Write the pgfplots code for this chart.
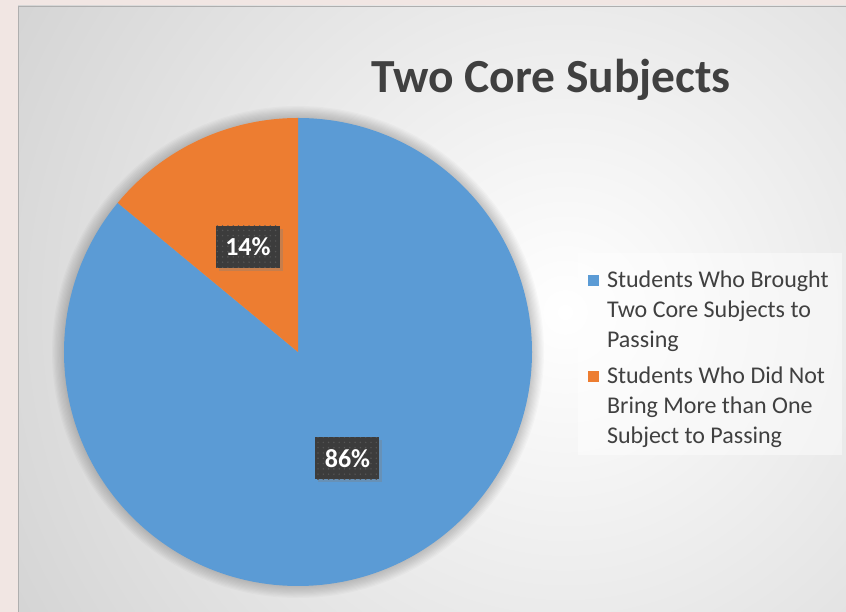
\documentclass[border=0pt]{standalone}
\usepackage{fontspec}
\setmainfont{Carlito}
\usepackage{pgfplots}
\pgfplotsset{compat=1.18}
\usepackage{pgfplotstable}
\usetikzlibrary{shadows,patterns.meta}

\definecolor{pieblue}{HTML}{5B9BD5}
\definecolor{pieorange}{HTML}{ED7D31}
\definecolor{txtgray}{HTML}{404040}
\definecolor{lblbox}{HTML}{3C3C3C}
\definecolor{lbldot}{HTML}{565656}
\definecolor{bggray}{HTML}{C2C2C2}
\definecolor{outerbg}{HTML}{F1E6E3}

% share of students, in percent
\pgfplotstableread{
group value
brought 86
notbrought 14
}\piedata
\pgfplotstablegetelem{0}{value}\of\piedata \let\valA\pgfplotsretval
\pgfplotstablegetelem{1}{value}\of\piedata \let\valB\pgfplotsretval
\pgfmathsetmacro\angA{3.6*\valA}
\pgfmathsetmacro\angB{3.6*\valB}

\tikzset{pctlabel/.style={fill=lblbox, text=white, inner sep=0pt,
    minimum width=64pt, minimum height=42pt,
    font=\fontsize{26}{30}\selectfont\bfseries,
    drop shadow={shadow xshift=3pt, shadow yshift=-3pt, opacity=0.35},
    postaction={pattern={Dots[radius=0.8pt, distance=5.3pt]}, pattern color=lbldot}}}

\begin{document}
\begin{tikzpicture}[x=1pt, y=1pt]
\useasboundingbox (0,0) rectangle (846,612);
\fill[outerbg] (0,0) rectangle (846,612);
\begin{scope}
  \clip (18,0) rectangle (846,606);
  \shade[inner color=white, outer color=bggray] (565,300) circle (900);
\end{scope}
\draw[bggray!90!black, line width=0.8pt] (18.4,0) -- (18.4,605.6) -- (846,605.6);

% legend panel
\fill[white, opacity=0.45] (578,157) rectangle (842,359);

% soft halo round the pie
\foreach \i in {1,...,10}
  \fill[black, opacity=0.018] (298,260) circle ({234+1.2*\i});

\begin{axis}[
    at={(64pt,26pt)}, anchor=south west,
    width=468pt, height=468pt, scale only axis,
    xmin=-1, xmax=1, ymin=-1, ymax=1,
    hide axis, clip=false,
    legend image code/.code={\fill[#1] (0pt,24pt) rectangle (11pt,35pt);},
    legend style={at={(1.113,0.683)}, anchor=north west,
        draw=none, fill=none,
        font=\fontsize{24}{30}\selectfont, text=txtgray,
        cells={align=left, anchor=west},
        row sep=14pt,
        /tikz/every odd column/.append style={column sep=6pt}},
]
\addplot[fill=pieblue, draw=none] coordinates {(0,0) (0,1)}
    arc[start angle=90, delta angle=-\angA, radius=234pt] -- cycle;
\addlegendentry{Students Who Brought\\Two Core Subjects to\\Passing}
\addplot[fill=pieorange, draw=none] coordinates {(0,0) (0,1)}
    arc[start angle=90, delta angle=\angB, radius=234pt] -- cycle;
\addlegendentry{Students Who Did Not\\Bring More than One\\Subject to Passing}

\node[pctlabel] at (axis cs:-0.214,0.449) {\valB\%};
\node[pctlabel] at (axis cs:0.2115,-0.455) {\valA\%};
\end{axis}

\node[font=\fontsize{47.5}{54}\selectfont\bfseries, text=txtgray, anchor=base]
    at (551,519) {Two Core Subjects};
\end{tikzpicture}
\end{document}
